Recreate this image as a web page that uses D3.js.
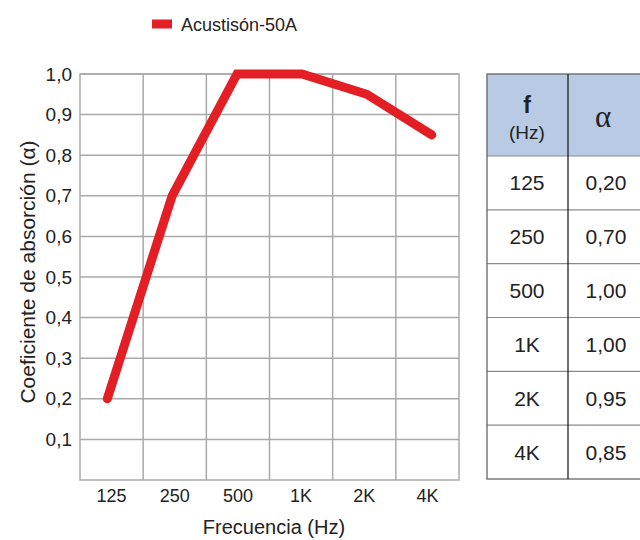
<!DOCTYPE html>
<html>
<head>
<meta charset="utf-8">
<script src="https://cdn.jsdelivr.net/npm/d3@7"></script>
<style>
  body { margin: 0; background: #fff; }
  text { font-family: "Liberation Sans", Arial, sans-serif; fill: #222; }
</style>
</head>
<body>
<svg id="chart" width="640" height="540"></svg>
<script>
// data
const frequencies = ["125", "250", "500", "1K", "2K", "4K"];
const absorption = [0.20, 0.70, 1.00, 1.00, 0.95, 0.85];
const tableValues = ["0,20", "0,70", "1,00", "1,00", "0,95", "0,85"];
const yTicks = [0.1, 0.2, 0.3, 0.4, 0.5, 0.6, 0.7, 0.8, 0.9, 1.0];
const seriesName = "Acustisón-50A";

const svg = d3.select("#chart");
const plot = { left: 80, right: 459, top: 74, bottom: 480 };

const xBand = d3.scaleBand().domain(frequencies).range([plot.left, plot.right]);
const xPoint = d3.scalePoint().domain(frequencies).range([plot.left, plot.right]).padding(0.42);
const y = d3.scaleLinear().domain([0, 1]).range([plot.bottom, plot.top]);

const grid = "#a9a9a9";

// horizontal grid
svg.append("g")
  .selectAll("line")
  .data(yTicks)
  .join("line")
  .attr("x1", plot.left).attr("x2", plot.right)
  .attr("y1", d => y(d)).attr("y2", d => y(d))
  .attr("stroke", grid).attr("stroke-width", 1.5);

// vertical grid (band edges)
svg.append("g")
  .selectAll("line")
  .data(frequencies.slice(1))
  .join("line")
  .attr("x1", d => xBand(d)).attr("x2", d => xBand(d))
  .attr("y1", plot.top).attr("y2", plot.bottom)
  .attr("stroke", grid).attr("stroke-width", 1.5);

// frame
svg.append("rect")
  .attr("x", plot.left).attr("y", plot.top)
  .attr("width", plot.right - plot.left).attr("height", plot.bottom - plot.top)
  .attr("fill", "none").attr("stroke", grid).attr("stroke-width", 1.5);

// y axis labels
const fmt = d => d3.format(".1f")(d).replace(".", ",");
svg.append("g")
  .attr("transform", `translate(${plot.left},0)`)
  .call(d3.axisLeft(y).tickValues(yTicks).tickSize(0).tickPadding(8).tickFormat(fmt))
  .call(g => g.select(".domain").remove())
  .selectAll("text")
  .attr("font-size", 19)
  .style("font-family", "'Liberation Sans', Arial, sans-serif")
  .attr("fill", "#222");

// x axis labels
svg.append("g")
  .attr("transform", `translate(0,${plot.bottom})`)
  .call(d3.axisBottom(xBand).tickSize(0).tickPadding(9))
  .call(g => g.select(".domain").remove())
  .selectAll("text")
  .attr("font-size", 18)
  .style("font-family", "'Liberation Sans', Arial, sans-serif")
  .attr("fill", "#222");

// axis titles
svg.append("text")
  .attr("x", 274).attr("y", 534)
  .attr("text-anchor", "middle").attr("font-size", 20)
  .text("Frecuencia (Hz)");

svg.append("text")
  .attr("transform", `translate(27,272) rotate(-90)`)
  .attr("text-anchor", "middle").attr("dominant-baseline", "central").attr("font-size", 21)
  .text("Coeficiente de absorción (α)");

// the line
const line = d3.line()
  .x((d, i) => xPoint(frequencies[i]))
  .y(d => y(d));

svg.append("path")
  .datum(absorption)
  .attr("d", line)
  .attr("fill", "none")
  .attr("stroke", "#e31e24")
  .attr("stroke-width", 9)
  .attr("stroke-linecap", "round")
  .attr("stroke-linejoin", "miter");

// legend
svg.append("rect")
  .attr("x", 152).attr("y", 19.5).attr("width", 20).attr("height", 9)
  .attr("fill", "#e31e24");
svg.append("text")
  .attr("x", 181).attr("y", 31).attr("font-size", 18)
  .text(seriesName);

// table
const tbl = { left: 487, mid: 568, right: 660, top: 74, head: 156, bottom: 479 };
const rowY = d3.scaleBand().domain(frequencies).range([tbl.head, tbl.bottom]);
const colX = d3.scaleOrdinal().domain(["f", "a"]).range([527, 606]);

const table = svg.append("g");
table.append("rect")
  .attr("x", tbl.left).attr("y", tbl.top)
  .attr("width", tbl.right - tbl.left).attr("height", tbl.head - tbl.top)
  .attr("fill", "#b9cae4");

table.selectAll("line.row")
  .data(frequencies)
  .join("line")
  .attr("class", "row")
  .attr("x1", tbl.left).attr("x2", tbl.right)
  .attr("y1", d => rowY(d)).attr("y2", d => rowY(d))
  .attr("stroke", "#8a8a8a").attr("stroke-width", 1.2);

table.append("rect")
  .attr("x", tbl.left).attr("y", tbl.top)
  .attr("width", tbl.right - tbl.left).attr("height", tbl.bottom - tbl.top)
  .attr("fill", "none").attr("stroke", "#666").attr("stroke-width", 1.3);

table.append("line")
  .attr("x1", tbl.mid).attr("x2", tbl.mid)
  .attr("y1", tbl.top).attr("y2", tbl.bottom)
  .attr("stroke", "#111").attr("stroke-width", 1.2);

// header
table.append("text")
  .attr("x", colX("f")).attr("y", 113)
  .attr("text-anchor", "middle").attr("font-size", 23).attr("font-weight", "bold")
  .text("f");
table.append("text")
  .attr("x", colX("f")).attr("y", 139)
  .attr("text-anchor", "middle").attr("font-size", 19)
  .text("(Hz)");
table.append("text")
  .attr("x", 603).attr("y", 127)
  .attr("text-anchor", "middle").attr("font-size", 31)
  .style("font-family", "'Liberation Serif', 'DejaVu Serif', serif")
  .text("α");

// rows
table.selectAll("text.freq")
  .data(frequencies)
  .join("text")
  .attr("class", "freq")
  .attr("x", colX("f"))
  .attr("y", d => rowY(d) + rowY.bandwidth() / 2 + 7.5)
  .attr("text-anchor", "middle").attr("font-size", 21)
  .text(d => d);

table.selectAll("text.val")
  .data(tableValues)
  .join("text")
  .attr("class", "val")
  .attr("x", colX("a"))
  .attr("y", (d, i) => rowY(frequencies[i]) + rowY.bandwidth() / 2 + 7.5)
  .attr("text-anchor", "middle").attr("font-size", 21)
  .text(d => d);
</script>
</body>
</html>
